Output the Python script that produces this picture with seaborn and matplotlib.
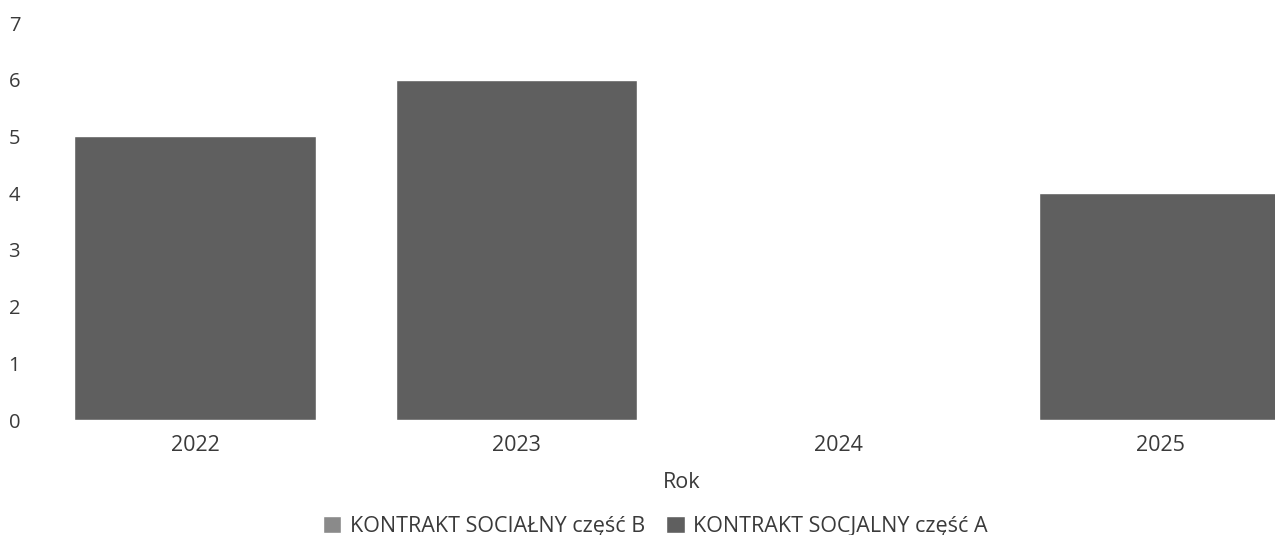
import matplotlib
matplotlib.use("Agg")
import matplotlib.pyplot as plt
import seaborn as sns
import pandas as pd

years = ["2022", "2023", "2024", "2025"]
series_b_name = "KONTRAKT SOCIAŁNY część B"
series_a_name = "KONTRAKT SOCJALNY część A"
series_b = [0, 0, 0, 0]
series_a = [5, 6, 0, 4]
y_ticks = [0, 1, 2, 3, 4, 5, 6, 7]

sns.set_theme(style="white")
plt.rcParams["font.family"] = ["Open Sans", "DejaVu Sans"]
text_color = "#3a3a3a"

df = pd.DataFrame({
    "Rok": years * 2,
    "value": series_b + series_a,
    "series": [series_b_name] * len(years) + [series_a_name] * len(years),
})

fig = plt.figure(figsize=(12.75, 5.35), dpi=100)
# axes: y=0 at ~420px from top, y=7 at ~23px
ax = fig.add_axes([0.0267, 115 / 535, 1.0094, 397 / 535])

sns.barplot(
    data=df, x="Rok", y="value", hue="series",
    hue_order=[series_b_name, series_a_name],
    palette=["#8a8a8a", "#5f5f5f"], dodge=False, width=0.75,
    saturation=1, ax=ax, legend=True,
)

ax.set_ylim(0, 7)
ax.set_yticks(y_ticks)
ax.set_xlim(-0.5, 3.5)
for s in ax.spines.values():
    s.set_visible(False)
ax.tick_params(axis="both", length=0, colors=text_color)
ax.tick_params(axis="y", pad=10, labelsize=14.5)
ax.tick_params(axis="x", pad=11, labelsize=15.5)
ax.set_ylabel("")
ax.set_xlabel("Rok", fontsize=15.5, color=text_color)
ax.xaxis.set_label_coords(0.503, -0.13)

handles, labels = ax.get_legend_handles_labels()
ax.get_legend().remove()
fig.legend(handles, labels, loc="lower center", bbox_to_anchor=(0.514, -0.04),
           ncol=2, frameon=False, fontsize=15.5, labelcolor=text_color,
           handlelength=0.85, handleheight=0.85, handletextpad=0.4, columnspacing=1.0)

fig.savefig("out.png", dpi=100)
